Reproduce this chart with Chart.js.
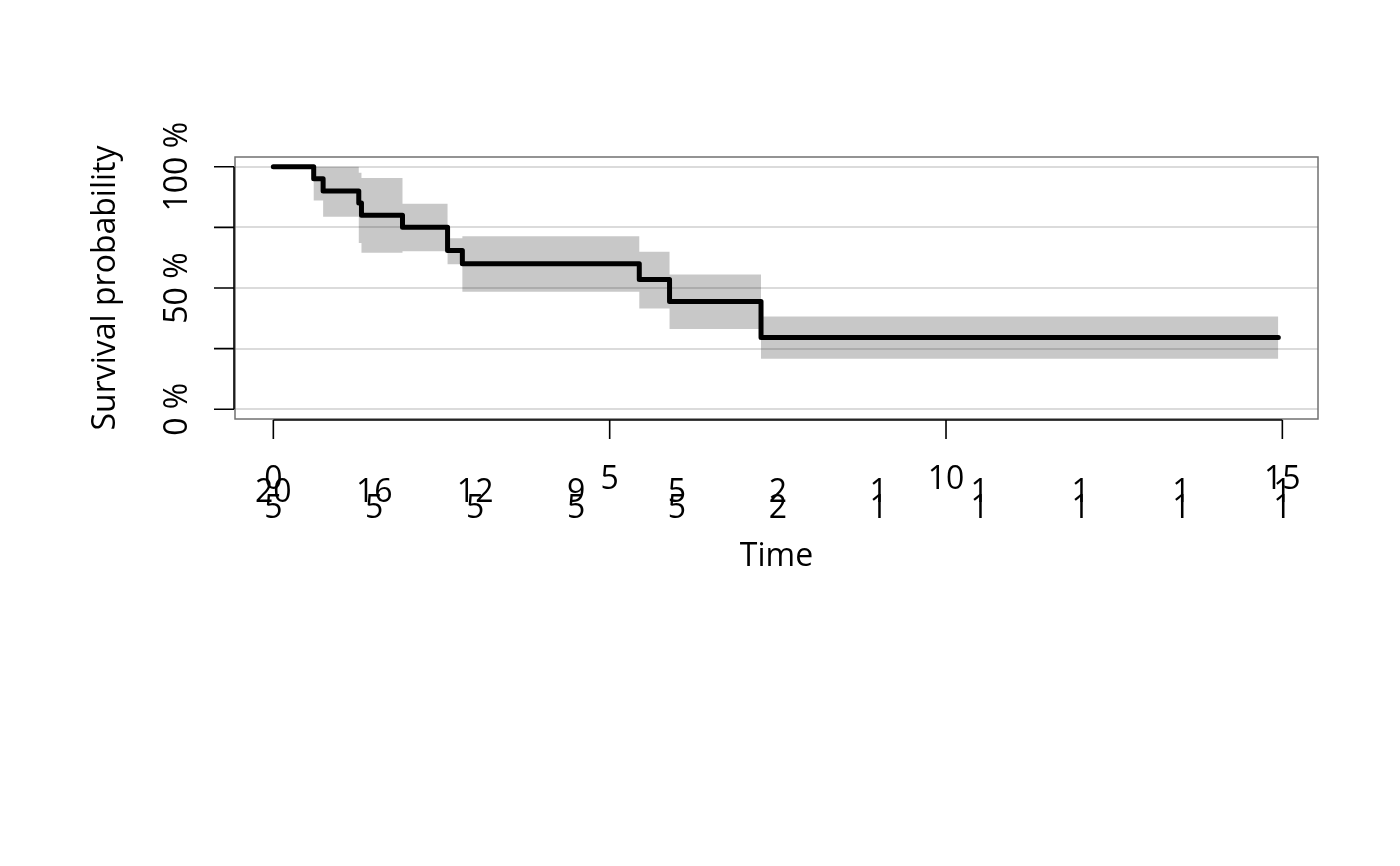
<!DOCTYPE html>
<html>
<head>
<meta charset="utf-8">
<script src="https://cdn.jsdelivr.net/npm/chart.js@4/dist/chart.umd.min.js"></script>
<style>
html,body{margin:0;padding:0;background:#fff;}
#wrap{width:1400px;height:866px;}
</style>
</head>
<body>
<div id="wrap"><canvas id="c" width="1400" height="866"></canvas></div>
<script>
// ---- data ----
const stepTimes = [0, 0.60, 0.74, 1.27, 1.31, 1.92, 2.59, 2.81, 5.44, 5.89, 7.25, 14.94];
const survival  = [100, 95, 90, 85, 80, 75, 65.5, 60, 53.5, 44.4, 29.6, 29.6];
const upperCI   = [100, 100, 100, 97.5, 95.3, 84.7, 70.5, 71.3, 64.9, 55.6, 38.3, 38.3];
const lowerCI   = [100, 86.1, 79.4, 68.5, 64.5, 65.2, 59.8, 48.5, 41.5, 33.1, 20.8, 20.8];

const xTicks = [0, 5, 10, 15];
const yTicks = [0, 25, 50, 75, 100];
const yTickLabels = {0: '0 %', 50: '50 %', 100: '100 %'};

const riskTimes = [0, 1.5, 3, 4.5, 6, 7.5, 9, 10.5, 12, 13.5, 15];
const riskRow1  = [20, 16, 12, 9, 5, 2, 1, 1, 1, 1, 1];
const riskRow2  = [5, 5, 5, 5, 5, 2, 1, 1, 1, 1, 1];

const xTitle = 'Time';
const yTitle = 'Survival probability';

const FONT = '32px "Open Sans"';

function pts(ys){ return stepTimes.map((t,i)=>({x:t, y:ys[i]})); }

const decor = {
  id: 'decor',
  afterDraw(chart){
    const ctx = chart.ctx, a = chart.chartArea;
    const xs = chart.scales.x, ys = chart.scales.y;
    ctx.save();
    // box
    ctx.strokeStyle = '#707070';
    ctx.lineWidth = 1.5;
    ctx.strokeRect(a.left, a.top, a.right - a.left, a.bottom - a.top);
    // y axis
    ctx.strokeStyle = '#000';
    ctx.lineWidth = 1.6;
    const yAxX = a.left - 1;
    ctx.beginPath();
    ctx.moveTo(yAxX, ys.getPixelForValue(yTicks[0]));
    ctx.lineTo(yAxX, ys.getPixelForValue(yTicks[yTicks.length-1]));
    yTicks.forEach(v => {
      const py = ys.getPixelForValue(v);
      ctx.moveTo(yAxX, py); ctx.lineTo(yAxX - 20, py);
    });
    ctx.stroke();
    // x axis
    const xAxY = a.bottom + 1;
    ctx.beginPath();
    ctx.moveTo(xs.getPixelForValue(xTicks[0]), xAxY);
    ctx.lineTo(xs.getPixelForValue(xTicks[xTicks.length-1]), xAxY);
    xTicks.forEach(v => {
      const px = xs.getPixelForValue(v);
      ctx.moveTo(px, xAxY); ctx.lineTo(px, xAxY + 19);
    });
    ctx.stroke();
    // text
    ctx.fillStyle = '#000';
    ctx.font = FONT;
    ctx.textAlign = 'center';
    ctx.textBaseline = 'alphabetic';
    xTicks.forEach(v => ctx.fillText(String(v), xs.getPixelForValue(v), 489));
    riskTimes.forEach((t,i) => {
      const px = xs.getPixelForValue(t);
      ctx.fillText(String(riskRow1[i]), px, 502);
      ctx.fillText(String(riskRow2[i]), px, 518);
    });
    ctx.fillText(xTitle, (a.left + a.right)/2, 566);
    // rotated y labels
    yTicks.forEach(v => {
      if (!(v in yTickLabels)) return;
      ctx.save();
      ctx.translate(187, ys.getPixelForValue(v));
      ctx.rotate(-Math.PI/2);
      ctx.fillText(yTickLabels[v], 0, 0);
      ctx.restore();
    });
    ctx.save();
    ctx.translate(115, ys.getPixelForValue(50));
    ctx.rotate(-Math.PI/2);
    ctx.fillText(yTitle, 0, 0);
    ctx.restore();
    ctx.restore();
  }
};

new Chart(document.getElementById('c'), {
  type: 'line',
  data: {
    datasets: [
      { label: 'survival', data: pts(survival), stepped: 'before',
        borderColor: '#000', borderWidth: 5, borderCapStyle: 'round', borderJoinStyle: 'round',
        pointRadius: 0, fill: false },
      { label: 'upper', data: pts(upperCI), stepped: 'before',
        borderWidth: 0, borderColor: 'rgba(0,0,0,0)', pointRadius: 0,
        backgroundColor: 'rgba(0,0,0,0.215)', fill: '+1' },
      { label: 'lower', data: pts(lowerCI), stepped: 'before',
        borderWidth: 0, borderColor: 'rgba(0,0,0,0)', pointRadius: 0, fill: false }
    ]
  },
  options: {
    responsive: false,
    animation: false,
    devicePixelRatio: 1,
    layout: { padding: { left: 235, top: 157, right: 82, bottom: 447 } },
    plugins: { legend: { display: false }, tooltip: { enabled: false } },
    scales: {
      x: {
        type: 'linear', min: -0.57, max: 15.53,
        afterBuildTicks(s){ s.ticks = xTicks.map(v => ({value: v})); },
        afterFit(s){ s.height = 0; },
        ticks: { display: false },
        grid: { display: false, drawTicks: false },
        border: { display: false }
      },
      y: {
        type: 'linear', min: -4, max: 104,
        afterBuildTicks(s){ s.ticks = yTicks.map(v => ({value: v})); },
        afterFit(s){ s.width = 0; },
        ticks: { display: false },
        grid: { color: 'rgba(0,0,0,0.14)', lineWidth: 2, drawTicks: false },
        border: { display: false }
      }
    }
  },
  plugins: [decor]
});
</script>
</body>
</html>
